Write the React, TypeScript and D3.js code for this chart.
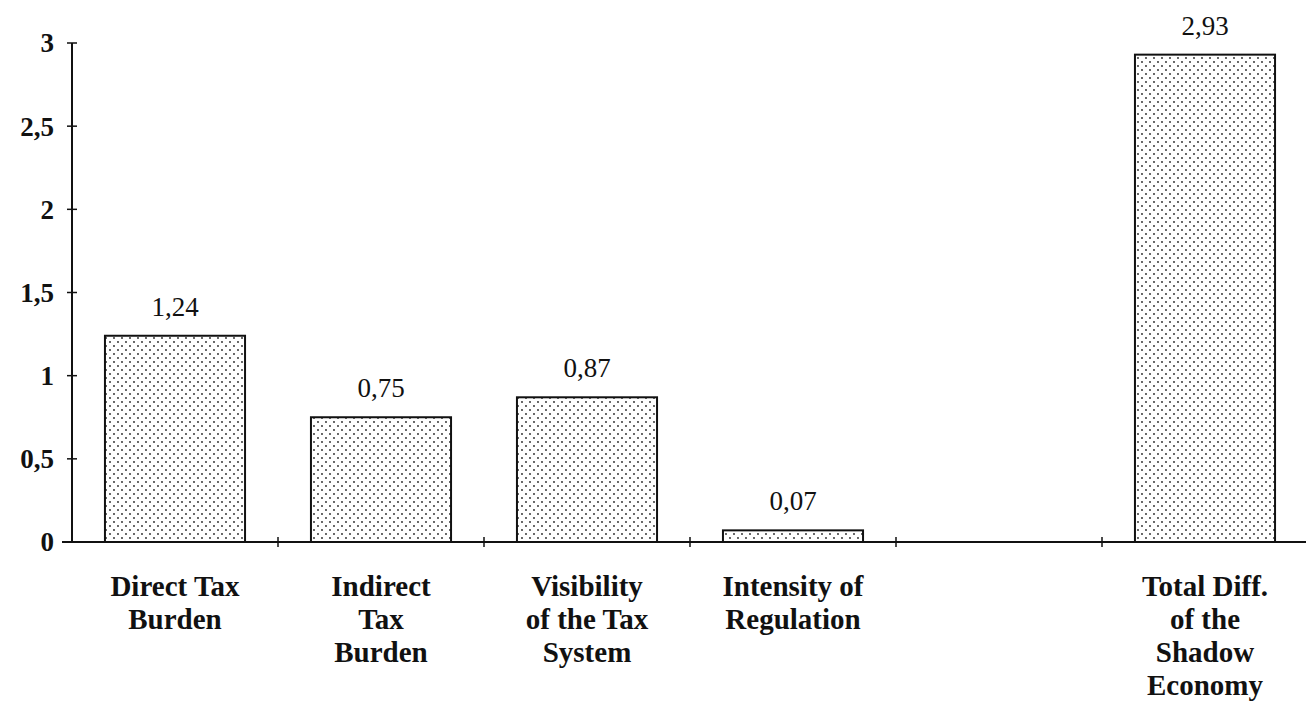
import React, { useEffect, useRef } from "react";
import * as d3 from "d3";

const categories = [
  "Direct Tax|Burden",
  "Indirect|Tax|Burden",
  "Visibility|of the Tax|System",
  "Intensity of|Regulation",
  "",
  "Total Diff.|of the|Shadow|Economy",
];
const values = [1.24, 0.75, 0.87, 0.07, null, 2.93];
const valueLabels = ["1,24", "0,75", "0,87", "0,07", "", "2,93"];
const yTicks = [0, 0.5, 1, 1.5, 2, 2.5, 3];
const yTickLabels = ["0", "0,5", "1", "1,5", "2", "2,5", "3"];

export default function App() {
  const ref = useRef<SVGSVGElement>(null);

  useEffect(() => {
    const svg = d3.select(ref.current);
    svg.selectAll("*").remove();

    const left = 72;
    const right = 1308;
    const top = 43;
    const bottom = 542;
    const font = '"Liberation Serif", Tinos, "Times New Roman", "DejaVu Serif", serif';

    const x = d3
      .scaleBand()
      .domain(categories.map((_, i) => String(i)))
      .range([left, right])
      .paddingInner(0.32)
      .paddingOuter(0.16);
    const step = (right - left) / categories.length;

    const y = d3.scaleLinear().domain([0, 3]).range([bottom, top]);

    // dotted fill
    const defs = svg.append("defs");
    const pat = defs
      .append("pattern")
      .attr("id", "dots")
      .attr("patternUnits", "userSpaceOnUse")
      .attr("width", 8)
      .attr("height", 8);
    pat.append("rect").attr("width", 8).attr("height", 8).attr("fill", "#fff");
    pat.append("circle").attr("cx", 2).attr("cy", 2).attr("r", 0.9).attr("fill", "#222");
    pat.append("circle").attr("cx", 6).attr("cy", 6).attr("r", 0.9).attr("fill", "#222");

    // bars
    categories.forEach((c, i) => {
      const v = values[i];
      if (v == null) return;
      const bx = x(String(i))!;
      svg
        .append("rect")
        .attr("x", bx)
        .attr("y", y(v))
        .attr("width", x.bandwidth())
        .attr("height", y(0) - y(v))
        .attr("fill", "url(#dots)")
        .attr("stroke", "#111")
        .attr("stroke-width", 2);
      svg
        .append("text")
        .attr("x", bx + x.bandwidth() / 2)
        .attr("y", y(v) - 20)
        .attr("text-anchor", "middle")
        .style("font-family", font)
        .attr("font-size", 27)
        .attr("fill", "#111")
        .text(valueLabels[i]);
    });

    // y axis
    svg
      .append("line")
      .attr("x1", left)
      .attr("x2", left)
      .attr("y1", y(3))
      .attr("y2", y(0))
      .attr("stroke", "#111")
      .attr("stroke-width", 2);
    yTicks.forEach((t, i) => {
      svg
        .append("line")
        .attr("x1", left - 5)
        .attr("x2", left + 5)
        .attr("y1", y(t))
        .attr("y2", y(t))
        .attr("stroke", "#111")
        .attr("stroke-width", 1.5);
      svg
        .append("text")
        .attr("x", left - 18)
        .attr("y", y(t))
        .attr("dy", "0.35em")
        .attr("text-anchor", "end")
        .style("font-family", font)
        .attr("font-weight", "bold")
        .attr("font-size", 27)
        .attr("fill", "#111")
        .text(yTickLabels[i]);
    });

    // x axis
    svg
      .append("line")
      .attr("x1", left - 10)
      .attr("x2", 1306)
      .attr("y1", y(0))
      .attr("y2", y(0))
      .attr("stroke", "#111")
      .attr("stroke-width", 2);
    categories.forEach((c, i) => {
      const tx = left + step * (i + 1);
      if (i < categories.length - 1) {
        svg
          .append("line")
          .attr("x1", tx)
          .attr("x2", tx)
          .attr("y1", y(0) - 5)
          .attr("y2", y(0) + 5)
          .attr("stroke", "#111")
          .attr("stroke-width", 1.5);
      }
      const cx = x(String(i))! + x.bandwidth() / 2;
      c.split("|").forEach((line, j) => {
        if (!line) return;
        svg
          .append("text")
          .attr("x", cx)
          .attr("y", 596 + j * 33)
          .attr("text-anchor", "middle")
          .style("font-family", font)
          .attr("font-weight", "bold")
          .attr("font-size", 29)
          .attr("fill", "#111")
          .text(line);
      });
    });
  }, []);

  return (
    <svg
      ref={ref}
      width={1306}
      height={701}
      style={{ position: "absolute", left: 0, top: 0, background: "#fff" }}
    />
  );
}
